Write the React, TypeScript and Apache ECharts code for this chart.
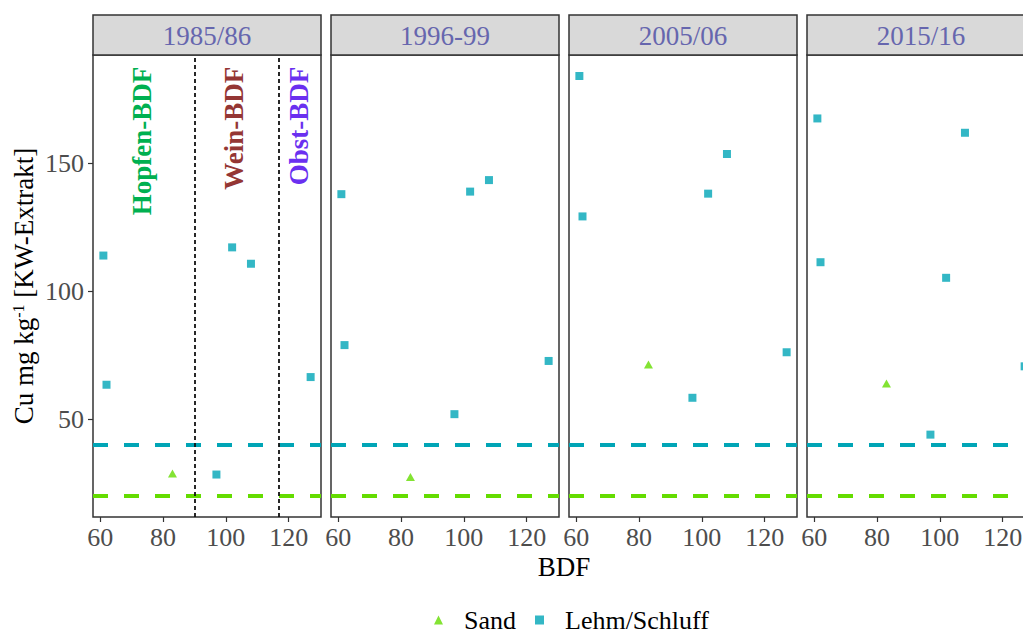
import React, { useEffect, useRef } from "react";
import * as echarts from "echarts";

// ---------- data ----------
const periods = ["1985/86", "1996-99", "2005/06", "2015/16"];
const lehmBDF = [61, 62, 97, 102, 108, 127];
const sandBDF = [83];
const lehmCu1985 = [114, 63.5, 28.4, 117.2, 110.8, 66.5];
const lehmCu1996 = [138, 79, 52, 139, 143.5, 72.8];
const lehmCu2005 = [184.2, 129.3, 58.4, 138.2, 153.7, 76.2];
const lehmCu2015 = [167.6, 111.4, 44, 105.3, 162, 70.7];
const sandCu1985 = [28.8];
const sandCu1996 = [27.4];
const sandCu2005 = [71.4];
const sandCu2015 = [64];
const lehmByPeriod = [lehmCu1985, lehmCu1996, lehmCu2005, lehmCu2015];
const sandByPeriod = [sandCu1985, sandCu1996, sandCu2005, sandCu2015];
const thresholdLehm = 40;
const thresholdSand = 20;
const zoneBounds = [90, 117];
const zoneLabels = ["Hopfen-BDF", "Wein-BDF", "Obst-BDF"];
const zoneLabelX = [73.3, 102.5, 123.3];
const zoneLabelY = 187.8;
const zoneColors = ["#00B050", "#943634", "#6A30F0"];
const xTicks = [60, 80, 100, 120];
const yTicks = [50, 100, 150];
const seriesNames = ["Sand", "Lehm/Schluff"];

// ---------- style / layout ----------
const FONT = "'Liberation Serif', 'Times New Roman', serif";
const SAND_COLOR = "#64DC00";
const LEHM_COLOR = "#00A5B6";
const PANEL_LEFT = 93;
const PANEL_W = 228;
const PANEL_GAP = 10;
const PANEL_TOP = 55;
const PANEL_H = 462;
const STRIP_TOP = 15;
const X_MIN = 57.7;
const X_MAX = 130.3;
const Y_MIN = 11.8;
const Y_MAX = 192.4;
const CANVAS_W = 1045;

export default function App() {
  const ref = useRef<HTMLDivElement>(null);

  useEffect(() => {
    const chart = echarts.init(ref.current!, null, { renderer: "svg" });
    const lefts = periods.map((_, i) => PANEL_LEFT + i * (PANEL_W + PANEL_GAP));

    const grid = lefts.map((l) => ({
      left: l,
      top: PANEL_TOP,
      width: PANEL_W,
      height: PANEL_H,
      show: true,
      borderColor: "#333",
      borderWidth: 1.5,
      backgroundColor: "#fff",
      containLabel: false,
    }));

    const xAxis = periods.map((_, i) => ({
      type: "value",
      gridIndex: i,
      min: X_MIN,
      max: X_MAX,
      axisLine: { show: false },
      splitLine: { show: false },
      axisTick: {
        show: true,
        length: 5,
        customValues: xTicks,
        lineStyle: { color: "#333", width: 1.2 },
      },
      axisLabel: {
        show: true,
        customValues: xTicks,
        fontSize: 26,
        fontFamily: FONT,
        color: "#4D4D4D",
        margin: 7,
      },
    }));

    const yAxis = periods.map((_, i) => ({
      type: "value",
      gridIndex: i,
      min: Y_MIN,
      max: Y_MAX,
      axisLine: { show: false },
      splitLine: { show: false },
      axisTick: {
        show: i === 0,
        length: 5,
        customValues: yTicks,
        lineStyle: { color: "#333", width: 1.2 },
      },
      axisLabel: {
        show: i === 0,
        customValues: yTicks,
        fontSize: 26,
        fontFamily: FONT,
        color: "#4D4D4D",
        margin: 9,
      },
      name: i === 0 ? "Cu mg kg{s|-1} [KW-Extrakt]" : "",
      nameLocation: "middle",
      nameRotate: 90,
      nameGap: 56,
      nameTextStyle: {
        fontSize: 27,
        fontFamily: FONT,
        color: "#000",
        rich: {
          s: { fontSize: 16, fontFamily: FONT, color: "#000", verticalAlign: "top" },
        },
      },
    }));

    const series: any[] = [];
    periods.forEach((_, i) => {
      series.push({
        type: "scatter",
        name: seriesNames[0],
        xAxisIndex: i,
        yAxisIndex: i,
        symbol: "triangle",
        symbolSize: [9, 8],
        itemStyle: { color: SAND_COLOR },
        data: sandBDF.map((x, k) => [x, sandByPeriod[i][k]]),
        markLine: {
          silent: true,
          symbol: "none",
          label: { show: false },
          data: [
            {
              yAxis: thresholdSand,
              lineStyle: { color: SAND_COLOR, width: 4, type: [15, 16] },
            },
          ],
        },
        z: 3,
      });
      const lehmLines: any[] = [
        {
          yAxis: thresholdLehm,
          lineStyle: { color: LEHM_COLOR, width: 4, type: [15, 16] },
        },
      ];
      if (i === 0) {
        zoneBounds.forEach((b) =>
          lehmLines.push({
            xAxis: b,
            lineStyle: { color: "#111", width: 1.8, type: [4, 3] },
          })
        );
      }
      series.push({
        type: "scatter",
        name: seriesNames[1],
        xAxisIndex: i,
        yAxisIndex: i,
        symbol: "rect",
        symbolSize: 8,
        itemStyle: { color: LEHM_COLOR },
        data: lehmBDF.map((x, k) => [x, lehmByPeriod[i][k]]),
        markLine: {
          silent: true,
          symbol: "none",
          label: { show: false },
          data: lehmLines,
        },
        z: 3,
      });
    });

    const stripGraphics: any[] = [];
    lefts.forEach((l, i) => {
      stripGraphics.push({
        type: "rect",
        shape: { x: l, y: STRIP_TOP, width: PANEL_W, height: PANEL_TOP - STRIP_TOP },
        style: { fill: "#D9D9D9", stroke: "#333", lineWidth: 1.5 },
        silent: true,
      });
      stripGraphics.push({
        type: "text",
        x: l + PANEL_W / 2,
        y: (STRIP_TOP + PANEL_TOP) / 2 + 1,
        style: {
          text: periods[i],
          fontSize: 27,
          fontFamily: FONT,
          fill: "#6666AE",
          align: "center",
          verticalAlign: "middle",
        },
        silent: true,
      });
    });
    const panelsRight = lefts[lefts.length - 1] + PANEL_W;
    stripGraphics.push({
      type: "text",
      x: (PANEL_LEFT + panelsRight) / 2,
      y: 567,
      style: {
        text: "BDF",
        fontSize: 27,
        fontFamily: FONT,
        fill: "#000",
        align: "center",
        verticalAlign: "middle",
      },
      silent: true,
    });

    chart.setOption({
      animation: false,
      backgroundColor: "#fff",
      grid,
      xAxis,
      yAxis,
      series,
      legend: {
        left: 434,
        top: 607,
        padding: 0,
        itemWidth: 9,
        itemHeight: 9,
        itemGap: 19,
        selectedMode: false,
        data: [
          { name: seriesNames[0], icon: "triangle" },
          { name: seriesNames[1], icon: "rect" },
        ],
        textStyle: {
          fontSize: 26,
          lineHeight: 26,
          fontFamily: FONT,
          color: "#000",
          padding: [0, 0, 0, 16],
        },
      },
      graphic: stripGraphics,
    });

    const annotations = zoneLabels.map((t, k) => {
      const p = chart.convertToPixel({ gridIndex: 0 }, [zoneLabelX[k], zoneLabelY]) as number[];
      return {
        type: "text",
        x: p[0],
        y: p[1],
        rotation: Math.PI / 2,
        style: {
          text: t,
          fontSize: 27,
          fontWeight: "bold",
          fontFamily: FONT,
          fill: zoneColors[k],
          align: "right",
          verticalAlign: "middle",
        },
        silent: true,
      };
    });
    chart.setOption({ graphic: [...stripGraphics, ...annotations] });

    return () => chart.dispose();
  }, []);

  return (
    <div
      style={{
        position: "absolute",
        left: 0,
        top: 0,
        width: 1023,
        height: 634,
        overflow: "hidden",
        background: "#fff",
      }}
    >
      <div ref={ref} style={{ width: CANVAS_W, height: 634 }} />
    </div>
  );
}
